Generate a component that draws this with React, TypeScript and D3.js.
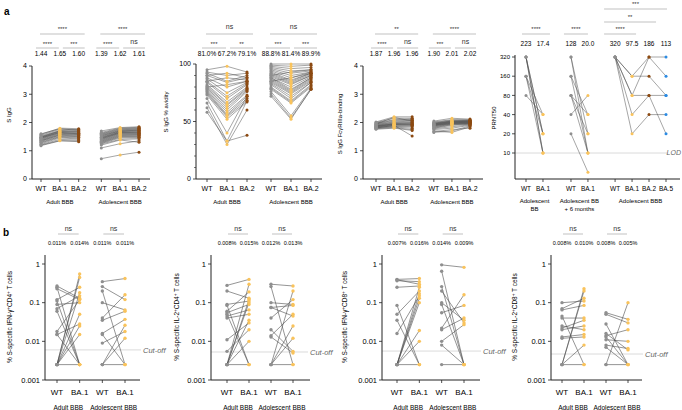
import React from "react";
import * as d3 from "d3";

const FONT = "'Liberation Sans', Arial, sans-serif";
const GREY = "#8f8f8f";
const YELLOW = "#f9c35c";
const BROWN = "#8c4a12";
const BLUE = "#2b8be3";
const LINK = "#4d4d4d";
const RULE = "#a8a8a8";
const AXIS = "#222";

// ---------- panel a, serology ----------
const variantsA = ["WT", "BA.1", "BA.2"];
const cohortsA = ["Adult BBB", "Adolescent BBB"];
const slotsA = [0, 1, 2, 3.2, 4.2, 5.2];

// S IgG  [WT, BA.1, BA.2] per subject
const iggAdult = [
  [1.58, 1.80, 1.78], [1.55, 1.76, 1.75], [1.52, 1.72, 1.74], [1.50, 1.70, 1.70],
  [1.48, 1.68, 1.66], [1.46, 1.66, 1.65], [1.45, 1.65, 1.62], [1.44, 1.64, 1.60],
  [1.42, 1.62, 1.58], [1.40, 1.60, 1.60], [1.38, 1.58, 1.56], [1.36, 1.56, 1.55],
  [1.35, 1.55, 1.52], [1.33, 1.52, 1.50], [1.30, 1.50, 1.48], [1.28, 1.48, 1.45],
  [1.25, 1.45, 1.42], [1.22, 1.40, 1.38], [1.20, 1.36, 1.32], [1.18, 1.35, 1.35],
  [1.60, 1.78, 1.72], [1.48, 1.70, 1.68],
];
const iggAdol = [
  [1.70, 1.82, 1.85], [1.65, 1.80, 1.83], [1.62, 1.78, 1.80], [1.60, 1.76, 1.78],
  [1.58, 1.74, 1.77], [1.56, 1.72, 1.75], [1.54, 1.70, 1.73], [1.52, 1.70, 1.72],
  [1.50, 1.68, 1.70], [1.48, 1.66, 1.68], [1.46, 1.66, 1.66], [1.45, 1.64, 1.65],
  [1.43, 1.63, 1.63], [1.42, 1.62, 1.62], [1.40, 1.60, 1.60], [1.38, 1.58, 1.58],
  [1.36, 1.56, 1.56], [1.34, 1.54, 1.55], [1.32, 1.52, 1.52], [1.30, 1.50, 1.50],
  [1.28, 1.48, 1.48], [1.26, 1.45, 1.45], [1.24, 1.40, 1.42], [1.10, 1.25, 1.35],
  [0.72, 0.85, 0.95], [1.20, 1.38, 1.30],
];
const iggMeans = ["1.44", "1.65", "1.60", "1.39", "1.62", "1.61"];
const iggStars = ["****", "****", "***", "****", "****", "ns"];

// S IgG % avidity
const avidAdult = [
  [95, 98, 93], [93, 90, 92], [92, 85, 90], [90, 84, 88], [88, 80, 85], [87, 75, 84],
  [85, 72, 83], [84, 70, 82], [82, 67, 80], [81, 65, 79], [80, 64, 78], [79, 62, 77],
  [78, 60, 76], [77, 58, 73], [76, 56, 72], [75, 55, 70], [74, 54, 68], [73, 52, 67],
  [70, 40, 72], [66, 33, 68], [62, 30, 60], [58, 33, 38], [85, 88, 86], [80, 82, 85],
  [90, 92, 88],
];
const avidAdol = [
  [100, 100, 100], [99, 98, 99], [98, 96, 97], [97, 94, 95], [96, 92, 94], [95, 90, 93],
  [94, 88, 93], [93, 86, 92], [92, 85, 92], [91, 84, 91], [90, 83, 90], [89, 82, 90],
  [88, 80, 89], [88, 78, 88], [87, 77, 88], [86, 76, 87], [85, 75, 86], [84, 74, 85],
  [83, 72, 84], [82, 70, 84], [80, 68, 82], [79, 67, 81], [78, 66, 80], [76, 55, 79],
  [74, 53, 78], [72, 52, 78], [85, 88, 92], [90, 93, 95],
];
const avidMeans = ["81.0%", "67.2%", "79.1%", "88.8%", "81.4%", "89.9%"];
const avidStars = ["ns", "***", "**", "ns", "***", "***"];

// S IgG FcγRIIIa-binding
const fcAdult = [
  [2.02, 2.20, 2.20], [2.00, 2.15, 2.15], [1.98, 2.10, 2.12], [1.96, 2.08, 2.10],
  [1.95, 2.05, 2.08], [1.93, 2.02, 2.05], [1.92, 2.00, 2.02], [1.90, 1.98, 2.00],
  [1.89, 1.96, 1.98], [1.88, 1.95, 1.96], [1.87, 1.94, 1.95], [1.86, 1.93, 1.93],
  [1.85, 1.92, 1.92], [1.84, 1.90, 1.90], [1.83, 1.88, 1.88], [1.82, 1.86, 1.85],
  [1.80, 1.84, 1.80], [1.78, 1.82, 1.75], [1.76, 1.80, 1.72], [1.80, 1.90, 1.52],
  [1.95, 2.18, 2.05],
];
const fcAdol = [
  [2.05, 2.15, 2.12], [2.02, 2.10, 2.10], [2.00, 2.08, 2.08], [1.98, 2.06, 2.07],
  [1.97, 2.05, 2.06], [1.96, 2.04, 2.05], [1.95, 2.03, 2.04], [1.94, 2.02, 2.03],
  [1.93, 2.01, 2.02], [1.92, 2.00, 2.02], [1.91, 1.99, 2.01], [1.90, 1.98, 2.00],
  [1.89, 1.97, 1.99], [1.88, 1.96, 1.98], [1.86, 1.95, 1.97], [1.84, 1.94, 1.96],
  [1.82, 1.92, 1.95], [1.80, 1.90, 1.94], [1.78, 1.85, 1.92], [1.75, 1.80, 1.90],
  [1.70, 1.65, 1.85], [1.68, 1.75, 1.80], [1.65, 1.70, 1.88],
];
const fcMeans = ["1.87", "1.96", "1.96", "1.90", "2.01", "2.02"];
const fcStars = ["**", "****", "ns", "****", "***", "ns"];

// PRNT50
const prntVariants = ["WT", "BA.1", "WT", "BA.1", "WT", "BA.1", "BA.2", "BA.5"];
const prntSlots = [0, 1, 2.65, 3.65, 5.25, 6.25, 7.25, 8.25];
const prntTicks = [10, 20, 40, 80, 160, 320];
const prntBB = [[320, 20], [320, 10], [320, 20], [320, 10], [160, 40], [160, 20], [160, 10], [80, 40]];
const prntBB6m = [[320, 20], [160, 40], [160, 10], [80, 40], [80, 20], [80, 10], [40, 80], [20, 5], [320, 10]];
const prntBBB = [
  [320, 160, 320, 320], [320, 160, 160, 80], [320, 80, 320, 160],
  [320, 80, 80, 80], [320, 40, 80, 20], [320, 20, 40, 40],
];
const prntMeans = ["223", "17.4", "128", "20.0", "320", "97.5", "186", "113"];

// ---------- panel b, T cells ----------
const variantsB = ["WT", "BA.1", "WT", "BA.1"];
const cohortsB = ["Adult BBB", "Adolescent BBB"];
const logTicks = [1, 0.1, 0.01, 0.001];

const ifngCd4Adult = [
  [0.27, 0.13], [0.25, 0.0025], [0.23, 0.12], [0.12, 0.25], [0.11, 0.0025], [0.09, 0.1],
  [0.07, 0.15], [0.06, 0.0025], [0.018, 0.12], [0.015, 0.0025], [0.015, 0.028], [0.0025, 0.55],
  [0.0025, 0.45], [0.0025, 0.18], [0.0025, 0.05], [0.0025, 0.025], [0.0025, 0.015], [0.0025, 0.0025],
];
const ifngCd4Adol = [
  [0.35, 0.42], [0.26, 0.12], [0.2, 0.0025], [0.1, 0.065], [0.04, 0.16], [0.035, 0.06],
  [0.016, 0.037], [0.015, 0.0025], [0.009, 0.018], [0.0025, 0.026], [0.0025, 0.012], [0.0025, 0.0025],
];
const il2Cd4Adult = [
  [0.28, 0.4], [0.2, 0.13], [0.09, 0.11], [0.085, 0.0025], [0.06, 0.19], [0.055, 0.09],
  [0.05, 0.0025], [0.045, 0.065], [0.04, 0.05], [0.011, 0.03], [0.0055, 0.02], [0.0025, 0.3],
  [0.0025, 0.12], [0.0025, 0.1], [0.0025, 0.035], [0.0025, 0.01], [0.0025, 0.0025],
];
const il2Cd4Adol = [
  [0.3, 0.27], [0.26, 0.0025], [0.1, 0.09], [0.075, 0.085], [0.075, 0.045], [0.04, 0.12],
  [0.02, 0.0055], [0.014, 0.05], [0.013, 0.005], [0.0025, 0.2], [0.0025, 0.025], [0.0025, 0.012],
  [0.0025, 0.0025],
];
const ifngCd8Adult = [
  [0.4, 0.42], [0.39, 0.3], [0.37, 0.35], [0.25, 0.27], [0.085, 0.0025], [0.05, 0.2],
  [0.035, 0.0025], [0.016, 0.15], [0.0025, 0.25], [0.0025, 0.17], [0.0025, 0.13], [0.0025, 0.1],
  [0.0025, 0.019], [0.0025, 0.01], [0.0025, 0.0025],
];
const ifngCd8Adol = [
  [0.95, 0.82], [0.65, 0.0025], [0.26, 0.0025], [0.2, 0.03], [0.1, 0.035], [0.09, 0.0025],
  [0.055, 0.085], [0.022, 0.16], [0.02, 0.04], [0.01, 0.027], [0.008, 0.0025], [0.0025, 0.0025],
];
const il2Cd8Adult = [
  [0.1, 0.11], [0.07, 0.13], [0.065, 0.085], [0.045, 0.0025], [0.04, 0.04], [0.025, 0.02],
  [0.022, 0.035], [0.02, 0.025], [0.013, 0.015], [0.012, 0.013], [0.0025, 0.23], [0.0025, 0.2],
  [0.0025, 0.008], [0.0025, 0.0025],
];
const il2Cd8Adol = [
  [0.055, 0.037], [0.05, 0.03], [0.028, 0.0025], [0.016, 0.006], [0.014, 0.02], [0.013, 0.0025],
  [0.011, 0.01], [0.008, 0.0065], [0.007, 0.0025], [0.0025, 0.1], [0.0025, 0.0025],
];

const colourOf: Record<string, string> = { WT: GREY, "BA.1": YELLOW, "BA.2": BROWN, "BA.5": BLUE };

// baseline so that a star string / "ns" sits centred on cy
const starY = (s: string, cy: number) => (s === "ns" ? cy + 2 : cy + 3.6);

function Bracket({ x1, x2, y, label, cy }: any) {
  return (
    <g>
      <text x={(x1 + x2) / 2} y={starY(label, cy)} fontSize={label === "ns" ? 7 : 6} textAnchor="middle" fill="#333">{label}</text>
      <line x1={x1} x2={x2} y1={y} y2={y} stroke={RULE} strokeWidth={0.7} />
    </g>
  );
}

function PanelA({ axisX, axisEnd, firstCol, lastCol, yMax, yTop, ticks, minor = [], adult, adol, means, stars, ylabel, ylabelX, ylabelY }: any) {
  const yBottom = 179;
  const y = d3.scaleLinear().domain([0, yMax]).range([yBottom, yTop]);
  const x = d3.scaleLinear().domain([0, slotsA[5]]).range([firstCol, lastCol]);
  const cx = slotsA.map((s) => x(s));
  const line = d3.line();
  const groups = [adult, adol];
  return (
    <g>
      {groups.map((rows: number[][], g: number) =>
        rows.map((r, i) => (
          <path key={`l${g}${i}`} d={line(r.map((v, k) => [cx[g * 3 + k], y(v)]))!} fill="none" stroke={LINK} strokeWidth={0.5} />
        ))
      )}
      {groups.map((rows: number[][], g: number) =>
        rows.map((r, i) =>
          r.map((v, k) => (
            <circle key={`d${g}${i}${k}`} cx={cx[g * 3 + k]} cy={y(v)} r={1.5} fill={colourOf[variantsA[k]]} />
          ))
        )
      )}
      {/* axes */}
      <line x1={axisX} x2={axisX} y1={yTop} y2={yBottom} stroke={AXIS} strokeWidth={1} />
      <line x1={axisX} x2={axisEnd} y1={yBottom} y2={yBottom} stroke={AXIS} strokeWidth={1} />
      {ticks.map((t: number) => (
        <g key={t}>
          <line x1={axisX - 3} x2={axisX} y1={y(t)} y2={y(t)} stroke={AXIS} strokeWidth={0.8} />
          <text x={axisX - 5} y={y(t)} dy="0.35em" fontSize={7} textAnchor="end">{t}</text>
        </g>
      ))}
      {minor.map((t: number) => (
        <line key={`m${t}`} x1={axisX - 2} x2={axisX} y1={y(t)} y2={y(t)} stroke={AXIS} strokeWidth={0.6} />
      ))}
      {cx.map((c, i) => (
        <g key={`x${i}`}>
          <line x1={c} x2={c} y1={yBottom} y2={yBottom + 3} stroke={AXIS} strokeWidth={0.8} />
          <text x={c} y={190.5} fontSize={7} textAnchor="middle">{variantsA[i % 3]}</text>
        </g>
      ))}
      {cohortsA.map((c, g) => (
        <text key={c} x={(cx[g * 3] + cx[g * 3 + 2]) / 2} y={203.5} fontSize={6} textAnchor="middle">{c}</text>
      ))}
      {/* header */}
      {[0, 1].map((g) => {
        const c0 = cx[g * 3], c1 = cx[g * 3 + 1], c2 = cx[g * 3 + 2];
        return (
          <g key={`h${g}`}>
            <Bracket x1={c0 - 1} x2={c2 + 6} y={34} cy={27} label={stars[g * 3]} />
            <Bracket x1={c0 - 5} x2={c1 - 1} y={48} cy={42} label={stars[g * 3 + 1]} />
            <Bracket x1={c1 + 3} x2={c2 + 6} y={48} cy={42} label={stars[g * 3 + 2]} />
          </g>
        );
      })}
      {cx.map((c, i) => (
        <text key={`v${i}`} x={c} y={55.5} fontSize={6.5} textAnchor="middle">{means[i]}</text>
      ))}
      <text transform={`translate(${ylabelX},${ylabelY}) rotate(-90)`} fontSize={6} textAnchor="middle">{ylabel}</text>
    </g>
  );
}

function PanelPRNT() {
  const axisX = 515, yBottom = 179;
  const y = d3.scaleLog().base(2).domain([10, 320]).range([153, 57]);
  const x = d3.scaleLinear().domain([0, 8.25]).range([526, 666]);
  const cx = prntSlots.map((s) => x(s));
  const line = d3.line();
  const sets = [
    { rows: prntBB, off: 0 },
    { rows: prntBB6m, off: 2 },
    { rows: prntBBB, off: 4 },
  ];
  return (
    <g>
      <line x1={axisX} x2={668} y1={y(10)} y2={y(10)} stroke="#d0d0d0" strokeWidth={0.8} />
      <text x={681} y={y(10)} dy="0.35em" fontSize={7} fontStyle="italic" fill="#666" textAnchor="end">LOD</text>
      {sets.map((s, g) =>
        s.rows.map((r, i) => (
          <path key={`l${g}${i}`} d={line(r.map((v, k) => [cx[s.off + k], y(v)]))!} fill="none" stroke={LINK} strokeWidth={0.5} />
        ))
      )}
      {sets.map((s, g) =>
        s.rows.map((r, i) =>
          r.map((v, k) => (
            <circle key={`d${g}${i}${k}`} cx={cx[s.off + k]} cy={y(v)} r={1.5} fill={colourOf[prntVariants[s.off + k]]} />
          ))
        )
      )}
      <line x1={axisX} x2={axisX} y1={55} y2={yBottom} stroke={AXIS} strokeWidth={1} />
      <line x1={axisX} x2={680} y1={yBottom} y2={yBottom} stroke={AXIS} strokeWidth={1} />
      {prntTicks.map((t) => (
        <g key={t}>
          <line x1={axisX - 3} x2={axisX} y1={y(t)} y2={y(t)} stroke={AXIS} strokeWidth={0.8} />
          <text x={axisX - 5} y={y(t)} dy="0.35em" fontSize={6} textAnchor="end">{t}</text>
        </g>
      ))}
      {cx.map((c, i) => (
        <g key={`x${i}`}>
          <line x1={c} x2={c} y1={yBottom} y2={yBottom + 3} stroke={AXIS} strokeWidth={0.8} />
          <text x={c} y={190.5} fontSize={6.5} textAnchor="middle">{prntVariants[i]}</text>
        </g>
      ))}
      <text x={(cx[0] + cx[1]) / 2} y={203} fontSize={6} textAnchor="middle">Adolescent</text>
      <text x={(cx[0] + cx[1]) / 2} y={211} fontSize={6} textAnchor="middle">BB</text>
      <text x={(cx[2] + cx[3]) / 2} y={203} fontSize={6} textAnchor="middle">Adolescent BB</text>
      <text x={(cx[2] + cx[3]) / 2} y={211} fontSize={6} textAnchor="middle">+ 6 months</text>
      <text x={(cx[4] + cx[7]) / 2} y={203} fontSize={6} textAnchor="middle">Adolescent BBB</text>
      {/* header */}
      <Bracket x1={cx[0] - 4} x2={cx[1] + 7} y={34} cy={27} label="****" />
      <Bracket x1={cx[2] - 7} x2={cx[3]} y={34} cy={27} label="****" />
      <Bracket x1={cx[4] - 11} x2={cx[5] + 4} y={34} cy={27} label="****" />
      <Bracket x1={cx[4] - 11} x2={cx[6] + 7} y={22} cy={15} label="**" />
      <Bracket x1={cx[4] - 11} x2={cx[7] + 1} y={9} cy={2} label="***" />
      {cx.map((c, i) => (
        <text key={`v${i}`} x={c} y={45.5} fontSize={6.5} textAnchor="middle">{prntMeans[i]}</text>
      ))}
      <text transform="translate(496,118) rotate(-90)" fontSize={6} textAnchor="middle">PRNT50</text>
    </g>
  );
}

function PanelB({ axisX, axisEnd, colRange, adult, adol, means, cutoff, cutoffX, cytokine, cell, ylabelX }: any) {
  const y = d3.scaleLog().domain([0.001, 1]).range([380, 264]);
  const keys = ["aWT", "aBA1", "dWT", "dBA1"];
  const x = d3.scalePoint().domain(keys).range(colRange);
  const cx = keys.map((k) => x(k)!);
  const line = d3.line();
  const groups = [adult, adol];
  const sup = (s: string) => <tspan baselineShift="super" fontSize={4.5}>{s}</tspan>;
  return (
    <g>
      <line x1={axisX} x2={cutoffX - 2} y1={y(cutoff)} y2={y(cutoff)} stroke="#d0d0d0" strokeWidth={0.8} />
      <text x={cutoffX} y={y(cutoff)} dy="0.35em" fontSize={7.5} fontStyle="italic" fill="#666">Cut-off</text>
      {groups.map((rows: number[][], g: number) =>
        rows.map((r, i) => (
          <path key={`l${g}${i}`} d={line(r.map((v, k) => [cx[g * 2 + k], y(v)]))!} fill="none" stroke={LINK} strokeWidth={0.6} />
        ))
      )}
      {groups.map((rows: number[][], g: number) =>
        rows.map((r, i) =>
          r.map((v, k) => (
            <circle key={`d${g}${i}${k}`} cx={cx[g * 2 + k]} cy={y(v)} r={1.7} fill={colourOf[variantsB[k]]} />
          ))
        )
      )}
      <line x1={axisX} x2={axisX} y1={255} y2={380} stroke={AXIS} strokeWidth={1} />
      <line x1={axisX} x2={axisEnd} y1={380} y2={380} stroke={AXIS} strokeWidth={1} />
      {logTicks.map((t) => (
        <g key={t}>
          <line x1={axisX - 3} x2={axisX} y1={y(t)} y2={y(t)} stroke={AXIS} strokeWidth={0.8} />
          <text x={axisX - 5} y={y(t)} dy="0.35em" fontSize={7.5} textAnchor="end">{t}</text>
        </g>
      ))}
      {cx.map((c, i) => (
        <g key={`x${i}`}>
          <line x1={c} x2={c} y1={380} y2={383} stroke={AXIS} strokeWidth={0.8} />
          <text x={c} y={395} fontSize={8} textAnchor="middle">{variantsB[i]}</text>
        </g>
      ))}
      {cohortsB.map((c, g) => (
        <text key={c} x={(cx[g * 2] + cx[g * 2 + 1]) / 2} y={409.5} fontSize={6.5} textAnchor="middle">{c}</text>
      ))}
      {[0, 1].map((g) => (
        <Bracket key={`h${g}`} x1={cx[g * 2] + 1} x2={cx[g * 2 + 1] - 1} y={234} cy={228.5} label="ns" />
      ))}
      {cx.map((c, i) => (
        <text key={`v${i}`} x={c} y={245} fontSize={5.5} textAnchor="middle">{means[i]}</text>
      ))}
      <text transform={`translate(${ylabelX},317) rotate(-90)`} fontSize={6.5} textAnchor="middle">
        % S-specific {cytokine}{sup("+")}{cell}{sup("+")} T cells
      </text>
    </g>
  );
}

export default function App() {
  return (
    <svg width={682} height={410} style={{ position: "absolute", left: 0, top: 0, background: "#fff" }} fontFamily={FONT}>
      <text x={4} y={15} fontSize={10} fontWeight="bold">a</text>
      <text x={3} y={236} fontSize={10} fontWeight="bold">b</text>
      <PanelA axisX={32} axisEnd={150} firstCol={41} lastCol={139} yMax={4} yTop={66}
        ticks={[0, 1, 2, 3, 4]} adult={iggAdult} adol={iggAdol} means={iggMeans} stars={iggStars}
        ylabel="S IgG" ylabelX={11} ylabelY={115} />
      <PanelA axisX={196} axisEnd={322} firstCol={207} lastCol={311} yMax={100} yTop={64}
        ticks={[0, 50, 100]} minor={[10, 20, 30, 40, 60, 70, 80, 90]} adult={avidAdult} adol={avidAdol}
        means={avidMeans} stars={avidStars} ylabel="S IgG % avidity" ylabelX={168} ylabelY={112} />
      <PanelA axisX={363} axisEnd={483} firstCol={376} lastCol={470} yMax={4} yTop={66}
        ticks={[0, 1, 2, 3, 4]} adult={fcAdult} adol={fcAdol} means={fcMeans} stars={fcStars}
        ylabel="S IgG FcγRIIIa-binding" ylabelX={342} ylabelY={124} />
      <PanelPRNT />
      <PanelB axisX={45} axisEnd={140} colRange={[57, 125]} adult={ifngCd4Adult} adol={ifngCd4Adol}
        means={["0.011%", "0.014%", "0.011%", "0.011%"]} cutoff={0.006} cutoffX={143}
        cytokine="IFN-γ" cell="CD4" ylabelX={12} />
      <PanelB axisX={211} axisEnd={310} colRange={[227, 293]} adult={il2Cd4Adult} adol={il2Cd4Adol}
        means={["0.008%", "0.015%", "0.012%", "0.013%"]} cutoff={0.0053} cutoffX={310}
        cytokine="IL-2" cell="CD4" ylabelX={179} />
      <PanelB axisX={382} axisEnd={480} colRange={[397, 464]} adult={ifngCd8Adult} adol={ifngCd8Adol}
        means={["0.007%", "0.016%", "0.014%", "0.009%"]} cutoff={0.0056} cutoffX={483}
        cytokine="IFN-γ" cell="CD8" ylabelX={347} />
      <PanelB axisX={551} axisEnd={642} colRange={[562, 628]} adult={il2Cd8Adult} adol={il2Cd8Adol}
        means={["0.008%", "0.010%", "0.008%", "0.005%"]} cutoff={0.0047} cutoffX={645}
        cytokine="IL-2" cell="CD8" ylabelX={517} />
    </svg>
  );
}
